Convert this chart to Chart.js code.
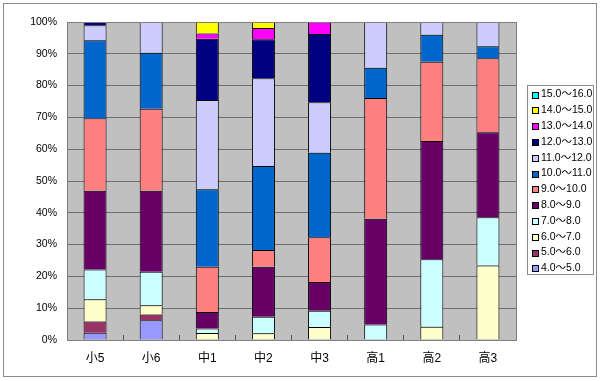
<!DOCTYPE html>
<html><head><meta charset="utf-8">
<script src="https://cdn.jsdelivr.net/npm/chart.js@4"></script>
<style>html,body{margin:0;padding:0;background:#fff}canvas{display:block}</style>
</head><body>
<canvas id="c" width="600" height="381"></canvas>
<script>
const categories = ['小5','小6','中1','中2','中3','高1','高2','高3'];
const seriesLabels = ['4.0～5.0','5.0～6.0','6.0～7.0','7.0～8.0','8.0～9.0','9.0～10.0','10.0～11.0','11.0～12.0','12.0～13.0','13.0～14.0','14.0～15.0','15.0～16.0'];
const s4_5   = [2.3, 6.2, null, null, null, null, null, null];
const s5_6   = [3.5, 1.8, null, null, null, null, null, null];
const s6_7   = [7.0, 2.9, 2.2, 2.1, 4.1, null, 4.2, 23.4];
const s7_8   = [9.4, 10.6, 1.4, 5.2, 5.1, 4.9, 21.2, 15.2];
const s8_9   = [24.7, 25.4, 5.2, 15.7, 9.0, 33.2, 37.2, 26.7];
const s9_10  = [22.8, 25.8, 14.2, 5.3, 14.1, 38.0, 24.9, 23.3];
const s10_11 = [24.6, 17.6, 24.4, 26.4, 26.6, 9.5, 8.5, 3.8];
const s11_12 = [4.7, 9.7, 28.1, 27.6, 15.9, 14.4, 4.0, 7.6];
const s12_13 = [1.0, null, 19.2, 12.3, 21.4, null, null, null];
const s13_14 = [null, null, 1.7, 3.5, 3.8, null, null, null];
const s14_15 = [null, null, 3.6, 1.9, null, null, null, null];
const s15_16 = [null, null, null, null, null, null, null, null];
const yTicks = [0,10,20,30,40,50,60,70,80,90,100];

const seriesData = [s4_5,s5_6,s6_7,s7_8,s8_9,s9_10,s10_11,s11_12,s12_13,s13_14,s14_15,s15_16];
const colors = ['#9999FF','#993366','#FFFFCC','#CCFFFF','#660066','#FF8080','#0066CC','#CCCCFF','#000080','#FF00FF','#FFFF00','#00FFFF'];
const FONT = "'Liberation Sans','Noto Sans CJK JP',sans-serif";

const bgPlugin = {
  id: 'bg',
  beforeDraw(chart) {
    const {ctx, chartArea: a} = chart;
    ctx.save();
    ctx.fillStyle = '#C0C0C0';
    ctx.fillRect(a.left, a.top, a.right - a.left, a.bottom - a.top);
    ctx.restore();
  },
  afterDraw(chart) {
    const {ctx, chartArea: a} = chart;
    ctx.save();
    ctx.strokeStyle = '#808080';
    ctx.lineWidth = 1;
    ctx.strokeRect(a.left + 0.5, a.top + 0.5, a.right - a.left, a.bottom - a.top);
    // outer chart border
    ctx.strokeStyle = '#8c8c8c';
    ctx.strokeRect(3.5, 3.5, 593, 373);
    // legend
    const lx = 527.5, ly = 85.5, lw = 66, lh = 189;
    ctx.strokeStyle = '#8c8c8c';
    ctx.strokeRect(lx, ly, lw, lh);
    ctx.font = '10.5px ' + FONT;
    ctx.textBaseline = 'middle';
    ctx.textAlign = 'left';
    const ds = chart.data.datasets;
    for (let i = 0; i < ds.length; i++) {
      const d = ds[ds.length - 1 - i];
      const y = 94.5 + i * 15.8;
      ctx.fillStyle = d.backgroundColor;
      ctx.fillRect(532, Math.round(y) - 3, 6, 6);
      ctx.strokeStyle = '#000';
      ctx.strokeRect(532.5, Math.round(y) - 2.5, 6, 6);
      ctx.fillStyle = '#000';
      ctx.fillText(d.label, 541, y);
    }
    ctx.restore();
  }
};

new Chart(document.getElementById('c'), {
  type: 'bar',
  data: {
    labels: categories,
    datasets: seriesData.map((d, i) => ({
      label: seriesLabels[i],
      data: d,
      backgroundColor: colors[i],
      borderColor: '#000',
      borderWidth: 1,
      barPercentage: 0.41,
      categoryPercentage: 1.0
    }))
  },
  options: {
    responsive: false,
    animation: false,
    devicePixelRatio: 1,
    layout: {padding: {left: 0, top: 22, right: 84, bottom: 0}},
    plugins: {legend: {display: false}, tooltip: {enabled: false}},
    scales: {
      x: {
        stacked: true,
        afterFit(s) { s.height = 41; },
        grid: {display: true, drawOnChartArea: false, drawTicks: true, tickLength: -5, offset: true, color: '#555'},
        border: {display: true, color: '#555'},
        ticks: {padding: 16, color: '#000', font: {family: FONT, size: 12}}
      },
      y: {
        stacked: true,
        min: 0, max: 100,
        afterFit(s) { s.width = 67; },
        afterBuildTicks(s) { s.ticks = yTicks.map(v => ({value: v})); },
        grid: {color: '#707070', drawTicks: false},
        border: {display: true, color: '#707070'},
        ticks: {padding: 10, color: '#000', font: {family: FONT, size: 10.5}, callback: v => v + '%'}
      }
    }
  },
  plugins: [bgPlugin]
});
</script>
</body></html>
